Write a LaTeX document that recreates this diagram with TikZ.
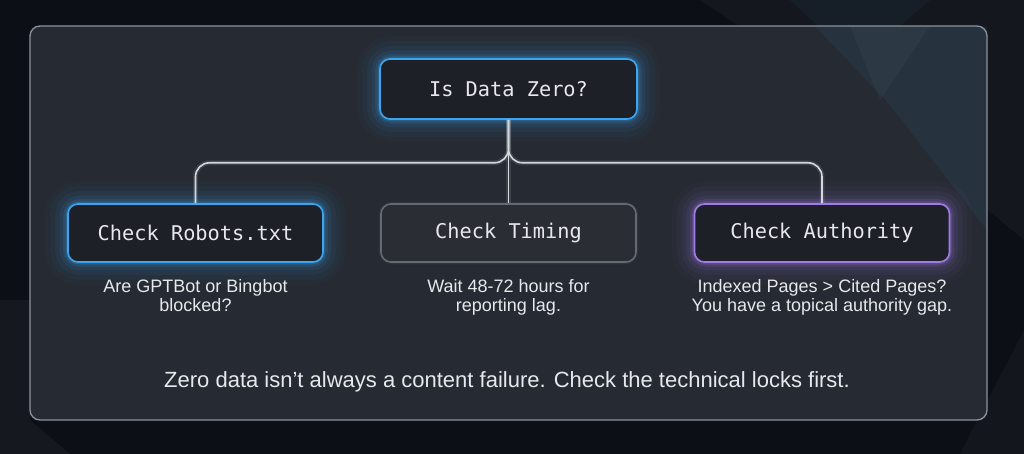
\documentclass[tikz,border=0pt]{standalone}
\usepackage{fontspec}
\setmainfont{Liberation Sans}
\newfontfamily\monofont{DejaVu Sans Mono}
\usetikzlibrary{calc}
\definecolor{bgdark}{HTML}{0C1016}
\definecolor{panelfill}{HTML}{282C34}
\definecolor{panelline}{HTML}{8C939C}
\definecolor{boxfill}{HTML}{1D2027}
\definecolor{midfill}{HTML}{2A2D33}
\definecolor{glowblue}{HTML}{3DA5F0}
\definecolor{glowpurple}{HTML}{A07BE8}
\definecolor{graybox}{HTML}{646972}
\definecolor{txt}{HTML}{E6E8EB}
\definecolor{connc}{HTML}{D4D8DE}
\pgfdeclarelayer{bg}
\pgfdeclarelayer{glow}
\pgfsetlayers{bg,glow,main}
\tikzset{
  stepbox/.style={draw, line width=1.6pt, rounded corners=10pt, fill=boxfill,
    minimum width=255pt, minimum height=58pt, inner sep=0pt,
    text=txt, font=\monofont\fontsize{20.3}{24}\selectfont},
  subtext/.style={text=txt, align=center, anchor=north, inner sep=0pt,
    font=\fontsize{18}{19}\selectfont},
  conn/.style={draw=connc, line width=1.6pt, rounded corners=14pt},
  connglow/.style={draw=connc, line width=5pt, opacity=0.12, rounded corners=14pt},
}
\newcommand{\glowaround}[2]{%
  \foreach \w/\o in {44/0.03,34/0.04,24/0.06,15/0.08,8/0.12,3.5/0.2}{%
    \draw[line width=\w pt, draw=#2, opacity=\o, rounded corners=12pt]
      (#1.south west) rectangle (#1.north east);}}
\begin{document}
\begin{tikzpicture}[x=1pt,y=-1pt]
\useasboundingbox (0,0) rectangle (1024,454);
\begin{pgfonlayer}{bg}
  \fill[bgdark] (0,0) rectangle (1024,454);
  % subtle background shapes
  \fill[white, opacity=0.035] (700,0) -- (1024,0) -- (1024,240) -- (880,120) -- cycle;
  \fill[glowblue, opacity=0.05] (790,0) -- (818,26) -- (900,26) -- (930,0) -- cycle;
  \fill[white, opacity=0.04] (0,300) -- (30,300) -- (30,420) -- (70,454) -- (0,454) -- cycle;
  \fill[white, opacity=0.03] (960,454) -- (1024,330) -- (1024,454) -- cycle;
  % panel
  \fill[panelfill, opacity=0.95, rounded corners=10pt] (30,26) rectangle (987,420);
  \fill[glowblue, opacity=0.07] (815,26) -- (987,26) -- (987,230) -- (890,105) -- cycle;
  \fill[white, opacity=0.03] (850,26) -- (930,26) -- (880,100) -- cycle;
  \draw[panelline, line width=1.3pt, rounded corners=10pt] (30,26) rectangle (987,420);
\end{pgfonlayer}

\node[stepbox, draw=glowblue, minimum width=257pt, minimum height=60pt] (top) at (508.5,89) {Is Data Zero?};
\node[stepbox, draw=glowblue] (left) at (195.5,233) {Check Robots.txt};
\node[stepbox, draw=graybox, fill=midfill] (mid) at (508.5,233) {Check Timing};
\node[stepbox, draw=glowpurple] (right) at (822,233) {Check Authority};

\begin{pgfonlayer}{glow}
  \glowaround{top}{glowblue}
  \glowaround{left}{glowblue}
  \glowaround{right}{glowpurple}
  \draw[line width=3pt, draw=graybox, opacity=0.15, rounded corners=12pt] (mid.south west) rectangle (mid.north east);
  \coordinate (j) at ($(top.south)+(0,43)$);
  \draw[connglow] (top.south) -- (mid.north);
  \draw[connglow] (top.south) -- (j) -| (left.north);
  \draw[connglow] (top.south) -- (j) -| (right.north);
\end{pgfonlayer}

\coordinate (j) at ($(top.south)+(0,43)$);
\draw[conn] (top.south) -- (mid.north);
\draw[conn] (top.south) -- (j) -| (left.north);
\draw[conn] (top.south) -- (j) -| (right.north);

\node[subtext] (lt) at (195.5,279) {Are GPTBot or Bingbot\\blocked?};
\node[subtext] (mt) at (508.5,279) {Wait 48-72 hours for\\reporting lag.};
\node[subtext] (rt) at (822,279) {Indexed Pages > Cited Pages?\\You have a topical authority gap.};
\node[text=txt, inner sep=0pt, font=\fontsize{22}{24}\selectfont] (foot) at (507,382)
  {Zero data isn’t always a content failure. Check the technical locks first.};
\end{tikzpicture}
\end{document}
